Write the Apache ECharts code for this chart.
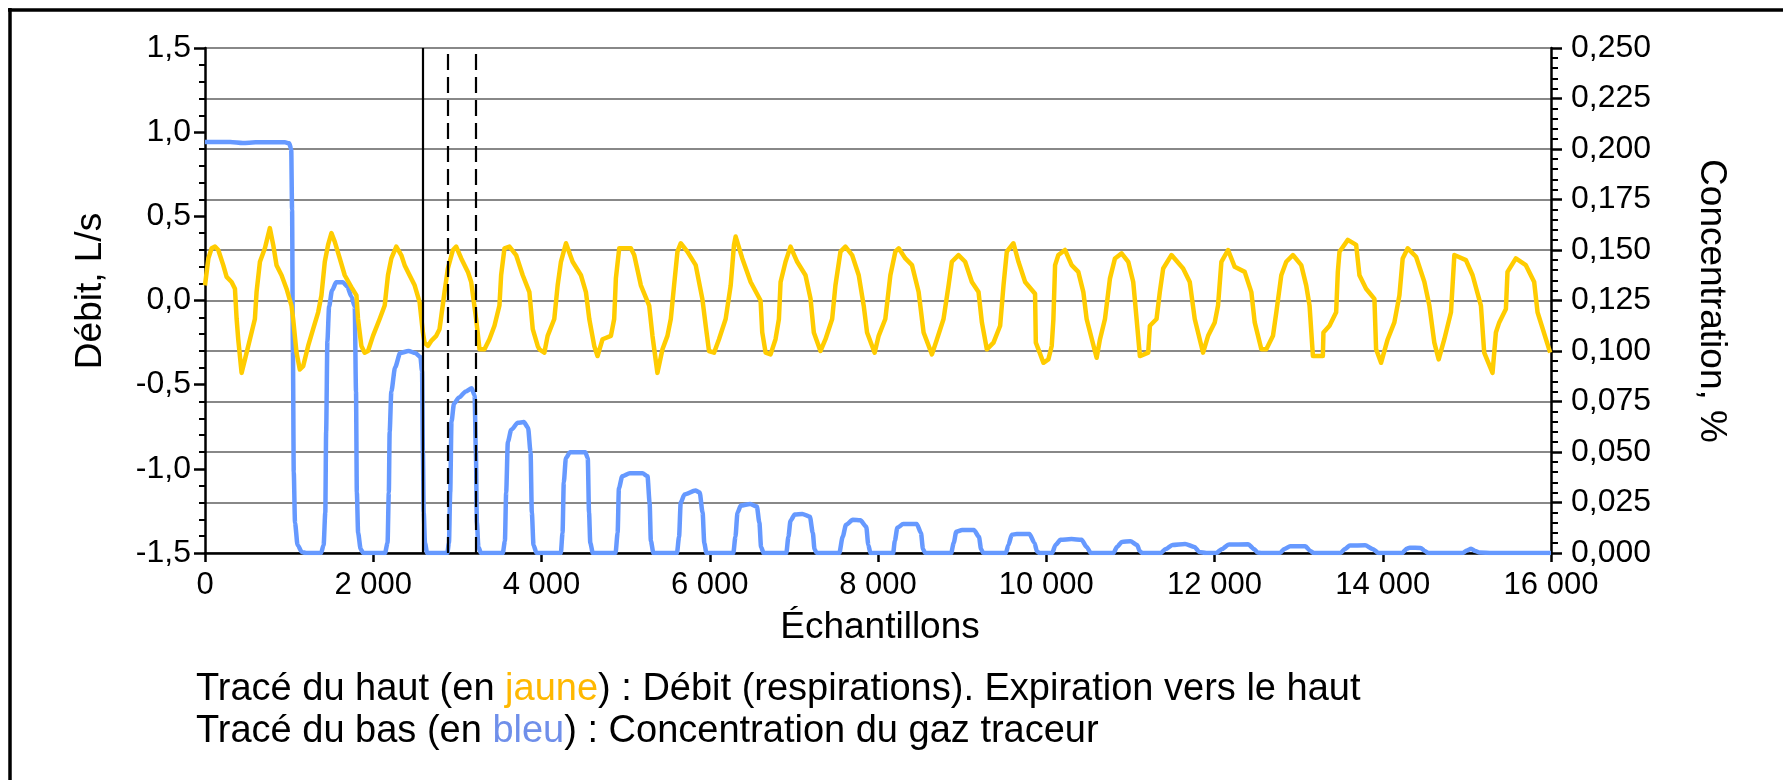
<!DOCTYPE html>
<html><head><meta charset="utf-8">
<script src="https://cdn.jsdelivr.net/npm/echarts@6/dist/echarts.min.js"></script>
<style>html,body{margin:0;padding:0;background:#fff}#c{width:1783px;height:780px}</style>
</head><body><div id="c"></div>
<script>
// ---- Data ----
const flowSamples = [0,40,79,119,158,217,257,316,356,376,395,435,475,534,593,613,653,712,771,811,850,910,969,1028,1048,1088,1127,1167,1226,1285,1345,1384,1424,1463,1503,1542,1602,1661,1740,1800,1819,1859,1898,1938,1997,2076,2136,2175,2215,2274,2333,2373,2432,2492,2551,2590,2610,2650,2689,2749,2788,2847,2887,2947,2986,3046,3125,3164,3223,3263,3322,3381,3441,3500,3520,3560,3619,3698,3777,3856,3896,3955,3974,4034,4073,4152,4192,4231,4291,4370,4469,4528,4568,4627,4666,4726,4825,4864,4884,4924,4963,5062,5102,5181,5280,5319,5378,5438,5497,5537,5576,5616,5655,5734,5833,5912,5952,5991,6051,6110,6189,6249,6288,6308,6387,6486,6604,6624,6664,6723,6782,6822,6842,6901,6960,7039,7138,7198,7237,7316,7376,7455,7494,7554,7613,7692,7771,7830,7870,7960,8008,8087,8147,8206,8246,8325,8404,8483,8542,8641,8701,8779,8839,8878,8957,9036,9116,9195,9235,9294,9373,9452,9492,9531,9610,9670,9749,9867,9876,9907,9966,10025,10065,10085,10105,10144,10223,10302,10381,10441,10480,10599,10639,10698,10757,10817,10896,10975,11034,11074,11113,11212,11232,11311,11350,11390,11489,11627,11706,11765,11864,11924,12003,12042,12082,12161,12240,12359,12438,12478,12557,12616,12695,12735,12794,12853,12932,13031,13090,13130,13170,13288,13295,13367,13446,13466,13486,13585,13684,13723,13802,13901,13921,13980,14059,14138,14198,14237,14297,14396,14495,14554,14613,14665,14732,14811,14851,14870,14989,15068,15167,15206,15305,15345,15385,15464,15483,15582,15701,15800,15840,15990];
const flowValues = [0.09,0.25,0.31,0.32,0.30,0.21,0.14,0.11,0.07,-0.11,-0.23,-0.43,-0.35,-0.23,-0.11,0.05,0.23,0.31,0.43,0.33,0.21,0.15,0.07,-0.03,-0.11,-0.31,-0.41,-0.39,-0.27,-0.17,-0.07,0.03,0.23,0.33,0.40,0.35,0.25,0.15,0.08,0.03,-0.11,-0.27,-0.31,-0.30,-0.21,-0.11,-0.03,0.15,0.25,0.32,0.27,0.21,0.15,0.09,-0.01,-0.19,-0.25,-0.27,-0.24,-0.21,-0.17,0.05,0.19,0.30,0.32,0.25,0.17,0.11,-0.11,-0.29,-0.29,-0.23,-0.15,-0.03,0.15,0.31,0.32,0.27,0.15,0.05,-0.17,-0.27,-0.29,-0.31,-0.21,-0.11,0.09,0.23,0.34,0.23,0.15,0.05,-0.11,-0.27,-0.33,-0.23,-0.21,-0.11,0.13,0.31,0.31,0.31,0.27,0.09,-0.03,-0.21,-0.43,-0.29,-0.21,-0.11,0.09,0.29,0.34,0.29,0.21,0.01,-0.15,-0.30,-0.31,-0.23,-0.11,0.09,0.33,0.38,0.25,0.11,0.0,-0.19,-0.31,-0.32,-0.23,-0.11,0.11,0.23,0.32,0.23,0.15,0.01,-0.19,-0.30,-0.23,-0.11,0.09,0.29,0.32,0.27,0.15,-0.03,-0.19,-0.31,-0.21,-0.11,0.15,0.29,0.31,0.25,0.21,0.05,-0.19,-0.32,-0.23,-0.11,0.09,0.23,0.27,0.23,0.11,0.05,-0.13,-0.29,-0.25,-0.15,0.09,0.29,0.34,0.23,0.11,0.04,-0.25,-0.29,-0.37,-0.35,-0.27,-0.11,0.21,0.27,0.30,0.21,0.17,0.05,-0.11,-0.34,-0.23,-0.11,0.13,0.25,0.28,0.23,0.11,-0.11,-0.33,-0.31,-0.15,-0.11,0.05,0.19,0.27,0.19,0.11,-0.11,-0.31,-0.21,-0.13,-0.03,0.23,0.30,0.20,0.17,0.05,-0.13,-0.29,-0.29,-0.21,-0.07,0.15,0.23,0.27,0.21,0.09,-0.03,-0.33,-0.33,-0.19,-0.15,-0.07,0.17,0.29,0.36,0.33,0.15,0.07,0.01,-0.29,-0.37,-0.23,-0.13,0.03,0.25,0.31,0.26,0.11,-0.03,-0.25,-0.35,-0.23,-0.07,0.27,0.28,0.24,0.15,-0.03,-0.31,-0.43,-0.19,-0.13,-0.05,0.17,0.25,0.21,0.11,-0.07,-0.31];

const concSamples = [0,300,450,600,950,1000,1025,1035,1045,1055,1070,1100,1150,1200,1380,1410,1430,1440,1455,1475,1510,1560,1640,1690,1740,1780,1795,1805,1820,1850,1880,2140,2170,2185,2195,2215,2260,2320,2420,2500,2560,2580,2590,2600,2615,2640,2880,2900,2915,2930,2960,3020,3100,3170,3205,3220,3232,3250,3280,3540,3565,3580,3600,3640,3720,3790,3840,3870,3885,3905,3940,4230,4250,4265,4290,4340,4520,4550,4565,4580,4610,4880,4905,4920,4960,5050,5200,5260,5285,5300,5330,5610,5635,5655,5700,5830,5880,5915,5935,5960,6280,6305,6330,6370,6480,6560,6590,6610,6640,6910,6935,6960,7010,7100,7190,7225,7245,7270,7540,7580,7620,7700,7790,7860,7885,7910,8180,8200,8230,8300,8460,8510,8535,8560,8870,8900,8930,9000,9140,9200,9225,9250,9520,9550,9590,9650,9800,9860,9890,9920,10070,10110,10170,10300,10420,10480,10530,10800,10840,10900,11000,11080,11110,11140,11360,11420,11500,11650,11760,11820,11900,12020,12090,12170,12400,12470,12510,12560,12780,12830,12900,13080,13140,13180,13500,13550,13610,13790,13880,13950,14230,14290,14320,14450,14500,14540,14950,15000,15050,15100,15150,15300,16000];
const concValues = [0.2035,0.2035,0.2030,0.2033,0.2033,0.2028,0.2,0.17,0.10,0.04,0.015,0.004,0.0005,0,0,0.004,0.02,0.06,0.105,0.122,0.130,0.134,0.134,0.132,0.127,0.122,0.08,0.03,0.01,0.002,0,0,0.005,0.03,0.06,0.08,0.092,0.099,0.100,0.099,0.097,0.09,0.05,0.02,0.005,0,0,0.005,0.03,0.065,0.074,0.077,0.080,0.0815,0.078,0.05,0.015,0.003,0,0,0.006,0.03,0.055,0.061,0.0645,0.0648,0.062,0.05,0.02,0.004,0,0,0.01,0.035,0.047,0.0499,0.0499,0.047,0.02,0.005,0,0,0.01,0.032,0.038,0.0395,0.0395,0.038,0.025,0.006,0,0,0.008,0.025,0.029,0.0309,0.030,0.02,0.005,0,0,0.008,0.02,0.0235,0.0243,0.023,0.015,0.003,0,0,0.008,0.016,0.019,0.0193,0.018,0.010,0.002,0,0,0.008,0.014,0.0164,0.0162,0.013,0.004,0,0,0.006,0.0125,0.0144,0.0144,0.010,0.002,0,0,0.005,0.0105,0.0114,0.0114,0.008,0.002,0,0,0.004,0.009,0.0094,0.0094,0.005,0.0008,0,0,0.004,0.0065,0.0069,0.0065,0.003,0,0,0.003,0.0055,0.0058,0.004,0.001,0,0,0.002,0.004,0.0045,0.003,0.0005,0,0,0.002,0.0042,0.0043,0.002,0.0003,0,0,0.002,0.0033,0.0033,0.001,0,0,0.002,0.0037,0.0038,0.002,0,0,0.0022,0.0026,0.0025,0.001,0,0,0.0012,0.0021,0.001,0.0003,0,0];

const solidMarkers = [2594];
const dashedMarkers = [2887, 3223];

const flowTicks = {min: -1.5, max: 1.5, step: 0.5};
const concTicks = {min: 0, max: 0.25, step: 0.025};
const sampleTicks = {min: 0, max: 16000, step: 2000};

const texts = {
  flowName: 'Débit, L/s',
  concName: 'Concentration, %',
  xName: 'Échantillons',
  line1a: 'Tracé du haut (en ', line1b: 'jaune', line1c: ') : Débit (respirations). Expiration vers le haut',
  line2a: 'Tracé du bas (en ', line2b: 'bleu', line2c: ') : Concentration du gaz traceur'
};

// ---- Chart ----
const FONT = '"Liberation Sans", Arial, sans-serif';
const YELLOW = '#FFCC00', BLUE = '#6699FF';
const chart = echarts.init(document.getElementById('c'), null, {renderer: 'canvas'});
const flowData = flowSamples.map((s, i) => [s, flowValues[i]]);
const concData = concSamples.map((s, i) => [s, concValues[i]]);
const fmtX = v => v === 0 ? '0' : String(v).replace(/\B(?=(\d{3})+(?!\d))/g, ' ');

const markData = solidMarkers.map(x => ({xAxis: x, lineStyle: {type: 'solid'}}))
  .concat(dashedMarkers.map(x => ({xAxis: x, lineStyle: {type: [16, 7]}})));

chart.setOption({
  animation: false,
  backgroundColor: '#fff',
  grid: {left: 205, right: 232, top: 48, bottom: 227, containLabel: false},
  xAxis: {
    type: 'value', min: sampleTicks.min, max: sampleTicks.max, interval: sampleTicks.step,
    axisLine: {onZero: false, lineStyle: {color: '#000', width: 2.5}},
    axisTick: {show: true, inside: false, length: 9, lineStyle: {color: '#000', width: 2.5}},
    axisLabel: {formatter: fmtX, color: '#000', fontFamily: FONT, fontSize: 31, margin: 17},
    splitLine: {show: false}
  },
  yAxis: [{
    type: 'value', position: 'left', min: flowTicks.min, max: flowTicks.max, interval: flowTicks.step,
    axisLine: {show: true, onZero: false, lineStyle: {color: '#000', width: 2.5}},
    axisTick: {show: true, length: 11, lineStyle: {color: '#000', width: 2.5}},
    minorTick: {show: true, splitNumber: 5, length: 6, lineStyle: {color: '#000', width: 2}},
    axisLabel: {formatter: v => v.toFixed(1).replace('.', ','), color: '#000', fontFamily: FONT, fontSize: 32, margin: 14},
    splitLine: {show: false}
  }, {
    type: 'value', position: 'right', min: concTicks.min, max: concTicks.max, interval: concTicks.step,
    axisLine: {show: true, onZero: false, lineStyle: {color: '#000', width: 2.5}},
    axisTick: {show: true, length: 11, lineStyle: {color: '#000', width: 2.5}},
    minorTick: {show: true, splitNumber: 5, length: 7, lineStyle: {color: '#000', width: 2}},
    axisLabel: {formatter: v => v.toFixed(3).replace('.', ','), color: '#000', fontFamily: FONT, fontSize: 32, margin: 20},
    splitLine: {show: true, lineStyle: {color: '#888', width: 2}}
  }],
  series: [{
    name: 'Concentration', type: 'line', yAxisIndex: 1, data: concData,
    showSymbol: false, symbol: 'none', smooth: 0.25, smoothMonotone: 'x',
    lineStyle: {color: BLUE, width: 4.5}, z: 2
  }, {
    name: 'Débit', type: 'line', yAxisIndex: 0, data: flowData,
    showSymbol: false, symbol: 'none', smooth: false,
    lineStyle: {color: YELLOW, width: 4.5, join: 'round'}, z: 3,
    markLine: {silent: true, symbol: ['none', 'none'], label: {show: false},
      lineStyle: {color: '#000', width: 2.2}, data: markData}
  }],
  graphic: [
    {type: 'line', shape: {x1: 8, y1: 10, x2: 1783, y2: 10}, style: {stroke: '#000', lineWidth: 3.5}},
    {type: 'line', shape: {x1: 10, y1: 8, x2: 10, y2: 780}, style: {stroke: '#000', lineWidth: 3.5}},
    {type: 'text', x: 91, y: 291, rotation: Math.PI / 2,
      style: {text: texts.flowName, fill: '#000', font: '37px ' + FONT, textAlign: 'center', textVerticalAlign: 'middle'}},
    {type: 'text', x: 1711, y: 301, rotation: -Math.PI / 2,
      style: {text: texts.concName, fill: '#000', font: '37px ' + FONT, textAlign: 'center', textVerticalAlign: 'middle'}},
    {type: 'text', x: 880, y: 628,
      style: {text: texts.xName, fill: '#000', font: '37px ' + FONT, textAlign: 'center', textVerticalAlign: 'middle'}},
    {type: 'text', x: 196, y: 690,
      style: {text: '{a|' + texts.line1a + '}{y|' + texts.line1b + '}{a|' + texts.line1c + '}',
        textVerticalAlign: 'middle',
        rich: {a: {fill: '#000', font: '38px ' + FONT}, y: {fill: '#FFB800', font: '38px ' + FONT}}}},
    {type: 'text', x: 196, y: 732,
      style: {text: '{a|' + texts.line2a + '}{b|' + texts.line2b + '}{a|' + texts.line2c + '}',
        textVerticalAlign: 'middle',
        rich: {a: {fill: '#000', font: '38px ' + FONT}, b: {fill: '#6F8FEA', font: '38px ' + FONT}}}}
  ]
});
</script>
</body></html>
